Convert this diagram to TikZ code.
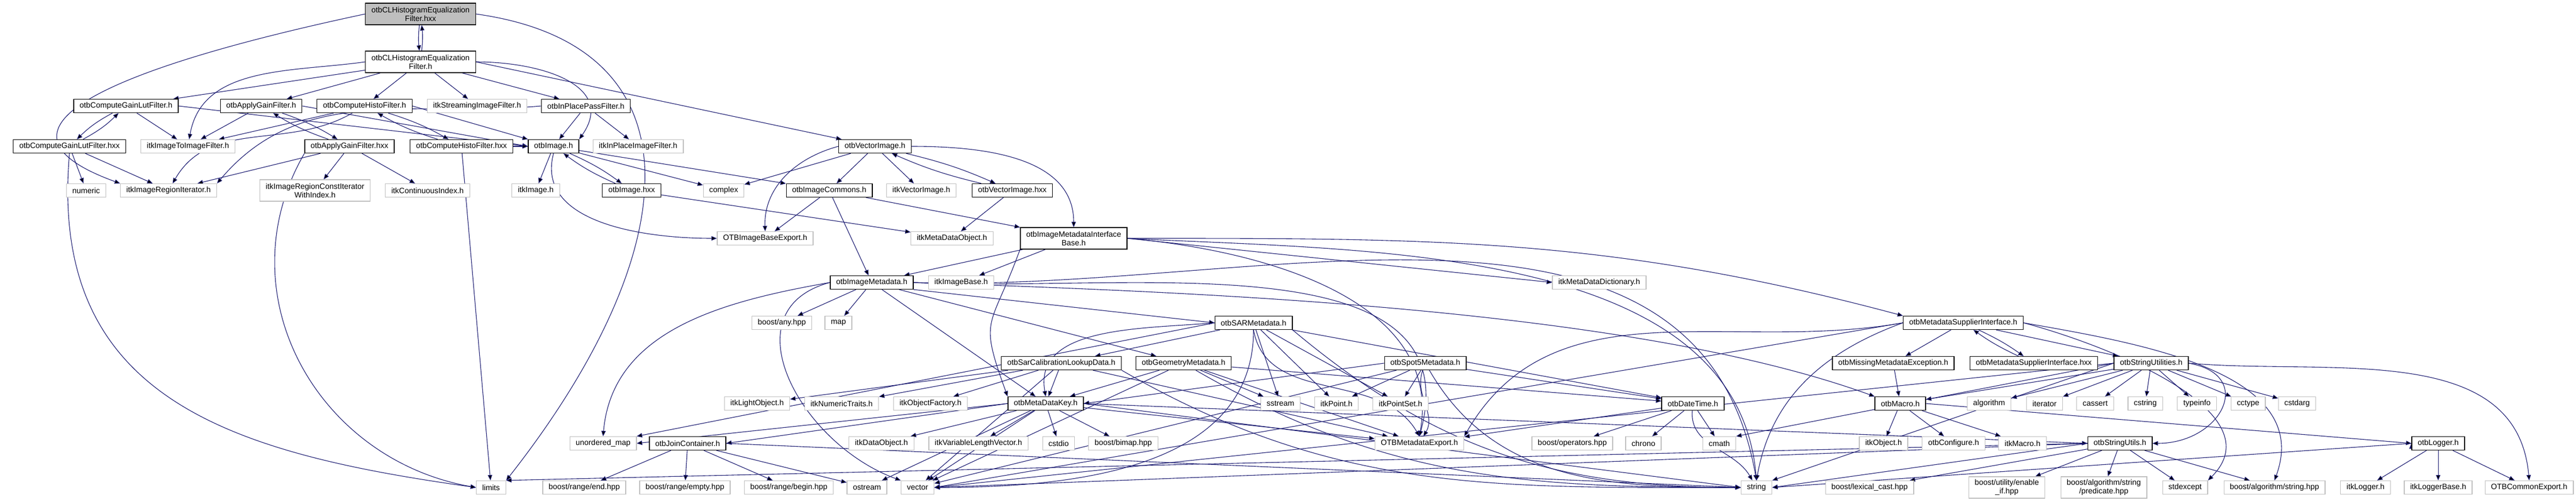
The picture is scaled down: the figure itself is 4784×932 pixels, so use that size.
\documentclass[tikz,border=0pt]{standalone}
\usepackage{fontspec}
\setmainfont{Liberation Sans}
\usepackage{tikz}
\usetikzlibrary{arrows.meta,backgrounds}
\definecolor{edgeblue}{HTML}{191970}
\tikzset{
  file/.style={rectangle, fill=white, line width=0.65pt, inner xsep=5.5pt, inner ysep=1.5pt, minimum height=12.5pt, align=center, font=\fontsize{7.2}{8}\selectfont},
  hdr/.style={file, draw=black},
  ext/.style={file, draw=black!25},
  cur/.style={file, draw=black, fill=black!25},
  dbl/.style={minimum height=20pt},
  dep/.style={draw=edgeblue, line width=0.55pt, -{Triangle[length=5pt,width=4pt]}}
}
\begin{document}
\begin{tikzpicture}[x=0.5pt, y=-0.5pt]
\useasboundingbox (0,0) rectangle (4784,932);

\node[cur,dbl] (root) at (781,26) {otbCLHistogramEqualization\\Filter.hxx};
\node[hdr,dbl] (clh) at (781,115) {otbCLHistogramEqualization\\Filter.h};

\node[hdr] (cglh) at (234,197) {otbComputeGainLutFilter.h};
\node[hdr] (agh) at (485,197) {otbApplyGainFilter.h};
\node[hdr] (chh) at (677,197) {otbComputeHistoFilter.h};
\node[ext] (sif) at (886,197) {itkStreamingImageFilter.h};
\node[hdr] (ippf) at (1088,197) {otbInPlacePassFilter.h};

\node[hdr] (cglx) at (129,272) {otbComputeGainLutFilter.hxx};
\node[ext] (iti) at (349,272) {itkImageToImageFilter.h};
\node[hdr] (agx) at (649,272) {otbApplyGainFilter.hxx};
\node[hdr] (chx) at (857,272) {otbComputeHistoFilter.hxx};
\node[hdr] (imgh) at (1028,272) {otbImage.h};
\node[ext] (ipif) at (1185,272) {itkInPlaceImageFilter.h};
\node[hdr] (vimg) at (1625,272) {otbVectorImage.h};

\node[ext] (numeric) at (160,354) {numeric};
\node[ext] (iri) at (313,354) {itkImageRegionIterator.h};
\node[ext,dbl] (ircwi) at (585,354) {itkImageRegionConstIterator\\WithIndex.h};
\node[ext] (cidx) at (794,354) {itkContinuousIndex.h};
\node[ext] (itkimg) at (995,354) {itkImage.h};
\node[hdr] (imgx) at (1173,354) {otbImage.hxx};
\node[ext] (complex) at (1344,354) {complex};
\node[hdr] (icom) at (1540,354) {otbImageCommons.h};
\node[ext] (itkvimg) at (1711,354) {itkVectorImage.h};
\node[hdr] (vimgx) at (1880,354) {otbVectorImage.hxx};

\node[ext] (ibexp) at (1421,443) {OTBImageBaseExport.h};
\node[ext] (mdo) at (1768,443) {itkMetaDataObject.h};
\node[hdr,dbl] (imib) at (1994,443) {otbImageMetadataInterface\\Base.h};

\node[hdr] (imd) at (1619,525) {otbImageMetadata.h};
\node[ext] (ibase) at (1785,525) {itkImageBase.h};
\node[ext] (mdd) at (2970,525) {itkMetaDataDictionary.h};

\node[ext] (anyhpp) at (1452,600) {boost/any.hpp};
\node[ext] (map) at (1557,600) {map};
\node[hdr] (sar) at (2328,600) {otbSARMetadata.h};
\node[hdr] (msi) at (3646,600) {otbMetadataSupplierInterface.h};

\node[hdr] (sarcal) at (1971,675) {otbSarCalibrationLookupData.h};
\node[hdr] (geom) at (2198,675) {otbGeometryMetadata.h};
\node[hdr] (spot) at (2647,675) {otbSpot5Metadata.h};
\node[hdr] (mme) at (3516,675) {otbMissingMetadataException.h};
\node[hdr] (msix) at (3777,675) {otbMetadataSupplierInterface.hxx};
\node[hdr] (stru) at (3995,675) {otbStringUtilities.h};

\node[ext] (lobj) at (1406,750) {itkLightObject.h};
\node[ext] (ntraits) at (1563,750) {itkNumericTraits.h};
\node[ext] (ofac) at (1728,750) {itkObjectFactory.h};
\node[hdr] (mdk) at (1942,750) {otbMetaDataKey.h};
\node[ext] (sstream) at (2378,750) {sstream};
\node[ext] (point) at (2482,750) {itkPoint.h};
\node[ext] (pset) at (2601,750) {itkPointSet.h};
\node[hdr] (dt) at (3144,750) {otbDateTime.h};
\node[hdr] (macro) at (3529,750) {otbMacro.h};
\node[ext] (algorithm) at (3694,750) {algorithm};
\node[ext] (iterator) at (3797,750) {iterator};
\node[ext] (cassert) at (3891,750) {cassert};
\node[ext] (cstring) at (3984,750) {cstring};
\node[ext] (typeinfo) at (4080,750) {typeinfo};
\node[ext] (cctype) at (4175,750) {cctype};
\node[ext] (cstdarg) at (4266,750) {cstdarg};

\node[ext] (umap) at (1120,824) {unordered\_map};
\node[hdr] (join) at (1277,824) {otbJoinContainer.h};
\node[ext] (dobj) at (1637,824) {itkDataObject.h};
\node[ext] (vlv) at (1817,824) {itkVariableLengthVector.h};
\node[ext] (cstdio) at (1966,824) {cstdio};
\node[ext] (bimap) at (2086,824) {boost/bimap.hpp};
\node[ext] (mdexp) at (2636,824) {OTBMetadataExport.h};
\node[ext] (oper) at (2920,824) {boost/operators.hpp};
\node[ext] (chrono) at (3052,824) {chrono};
\node[ext] (cmath) at (3193,824) {cmath};
\node[ext] (itkobj) at (3498,824) {itkObject.h};
\node[ext] (conf) at (3628,824) {otbConfigure.h};
\node[ext] (itkmacro) at (3756,824) {itkMacro.h};
\node[hdr] (strutils) at (3937,824) {otbStringUtils.h};
\node[hdr] (logger) at (4528,824) {otbLogger.h};

\node[ext] (limits) at (912,906) {limits};
\node[ext] (rend) at (1085,906) {boost/range/end.hpp};
\node[ext] (rempty) at (1272,906) {boost/range/empty.hpp};
\node[ext] (rbegin) at (1465,906) {boost/range/begin.hpp};
\node[ext] (ostream) at (1610,906) {ostream};
\node[ext] (vector) at (1704,906) {vector};
\node[ext] (string) at (3262,906) {string};
\node[ext] (lexcast) at (3472,906) {boost/lexical\_cast.hpp};
\node[ext,dbl] (enableif) at (3727,906) {boost/utility/enable\\\_if.hpp};
\node[ext,dbl] (pred) at (3907,906) {boost/algorithm/string\\/predicate.hpp};
\node[ext] (stdexcept) at (4058,906) {stdexcept};
\node[ext] (algstr) at (4224,906) {boost/algorithm/string.hpp};
\node[ext] (itklogger) at (4393,906) {itkLogger.h};
\node[ext] (loggerbase) at (4528,906) {itkLoggerBase.h};
\node[ext] (commonexp) at (4697,906) {OTBCommonExport.h};

\begin{scope}[on background layer]
\path[dep]
(root) edge[bend right=6] (clh)
(clh) edge[bend right=6] (root)
(root.west) edge[out=192,in=160,looseness=1.6] (iri.north west)
(root.east) edge[to path={.. controls +(430,60) and +(330,-420) .. (\tikztotarget)}] (limits.north east)
(clh) edge (cglh)
(clh.west) edge[out=188,in=80] (iti)
(clh) edge (agh)
(clh) edge (chh)
(clh) edge (sif)
(clh) edge (ippf)
(clh.east) edge[out=0,in=55,looseness=1.3] (imgh.north east)
(clh.east) edge (vimg)
(cglh) edge[bend right=8] (cglx)
(cglx) edge[bend right=8] (cglh)
(cglh) edge (iti)
(cglh.east) edge (imgh.west)
(agh) edge (iti)
(agh) edge[bend left=6] (agx)
(agx) edge[bend left=6] (agh)
(agh.east) edge (imgh.west)
(chh) edge (iti)
(chh) edge[out=-150,in=60] (iri)
(chh) edge[bend left=6] (chx)
(chx) edge[bend left=6] (chh)
(chh.east) edge (imgh.north west)
(ippf) edge (imgh)
(ippf) edge (ipif)
(ippf.west) edge[out=185,in=50] (iri.north east)
(cglx) edge (numeric)
(cglx) edge (iri)
(cglx.south) edge[out=-95,in=172,looseness=1.2] (limits.west)
(agx) edge (iri)
(agx) edge (ircwi)
(agx) edge (cidx)
(agx.south west) edge[out=-120,in=170,looseness=1.1] (limits.west)
(chx) edge (limits)
(chx) edge (imgh)
(imgh) edge (itkimg)
(imgh) edge[bend left=6] (imgx)
(imgx) edge[bend left=6] (imgh)
(imgh) edge (complex)
(imgh) edge (icom)
(imgh.south) edge[out=-105,in=180] (ibexp.west)
(imgx) edge (mdo)
(vimg.west) edge[out=195,in=92] (ibexp.north)
(vimg) edge (complex)
(vimg) edge (icom)
(vimg) edge (itkvimg)
(vimg) edge[bend left=5] (vimgx)
(vimgx) edge[bend left=5] (vimg)
(vimg.east) edge[out=0,in=90] (imib.north)
(vimgx) edge (mdo)
(icom) edge (ibexp)
(icom) edge (imd)
(icom) edge (imib.north west)
(imib) edge (imd)
(imib) edge (ibase)
(imib.south west) edge[out=250,in=110,looseness=1.5] (mdk.north west)
(imib.east) edge (mdd.west)
(imib.east) edge[out=0,in=165] (msi.north west)
(imib.east) edge[out=-5,in=80] (mdexp.north)
(imib.east) edge[out=-3,in=95,looseness=0.9] (string.north)
(imd) edge (anyhpp)
(imd) edge (map)
(imd.west) edge[out=190,in=85] (umap.north)
(imd.south east) edge (sar.west)
(imd) edge (geom)
(imd) edge (mdk)
(imd.east) edge[out=-3,in=75] (mdexp.north)
(imd.east) edge[out=-2,in=160,looseness=0.7] (macro.north west)
(imd.east) edge[out=-2,in=100] (string.north)
(imd.west) edge[out=195,in=160,looseness=1.3] (vector.north west)
(sar) edge (sarcal)
(sar.west) edge[out=185,in=100] (mdk.north)
(sar) edge (point)
(sar) edge (pset)
(sar) edge (sstream)
(sar.south) edge[out=-80,in=120] (mdexp.north)
(sar.south east) edge[out=-40,in=180] (string.west)
(sar.south) edge[out=-90,in=0] (vector.east)
(sar) edge (dt)
(sar.west) edge (umap.north east)
(sarcal) edge (lobj)
(sarcal) edge (ntraits)
(sarcal) edge (ofac)
(sarcal) edge (mdk)
(sarcal) edge (mdexp)
(sarcal) edge (vector)
(sarcal.south east) edge[out=-30,in=180] (string.west)
(geom) edge (mdk)
(geom) edge (sstream)
(geom) edge (mdexp)
(geom) edge[out=-30,in=180] (string.west)
(geom) edge (vector)
(geom) edge (dt)
(spot) edge (point)
(spot) edge (pset)
(spot) edge[out=-110,in=60] (mdexp)
(spot) edge (dt)
(spot.west) edge (mdk.east)
(spot) edge[out=-60,in=180] (string.west)
(spot) edge (vector)
(mdk) edge (dobj)
(mdk) edge (vlv)
(mdk) edge (cstdio)
(mdk) edge (bimap)
(mdk) edge (mdexp)
(mdk.west) edge (join.east)
(mdk.west) edge (umap.east)
(mdk) edge (vector)
(mdk) edge (ostream)
(mdk.east) edge (string.west)
(mdk.east) edge (strutils.west)
(join) edge (rend)
(join) edge (rempty)
(join) edge (rbegin)
(join) edge (ostream)
(join.east) edge (string.west)
(dt) edge (oper)
(dt) edge (chrono)
(dt) edge (cmath)
(dt) edge (mdexp)
(dt) edge[out=-95,in=120] (string)
(msi) edge (mme)
(msi) edge[bend left=5] (msix)
(msix) edge[bend left=5] (msi)
(msi) edge (stru)
(msi.west) edge[out=190,in=60] (mdexp.north east)
(msi.west) edge[out=200,in=80] (string.north)
(msi.west) edge (vector.east)
(msi.east) edge[out=-10,in=70] (algstr.north)
(msi.east) edge[out=-15,in=45] (stdexcept.north east)
(mme) edge (macro)
(stru) edge (algorithm)
(stru) edge (iterator)
(stru) edge (cassert)
(stru) edge (cstring)
(stru) edge (typeinfo)
(stru) edge (cctype)
(stru) edge (cstdarg)
(stru.east) edge[out=-5,in=95] (commonexp.north)
(stru) edge (macro)
(stru.west) edge (string.north east)
(stru.west) edge (vector.east)
(stru.east) edge[out=-10,in=0,looseness=2] (strutils.east)
(stru.west) edge (cmath.north east)
(macro) edge (itkobj)
(macro) edge (conf)
(macro) edge (itkmacro)
(macro.east) edge (logger.west)
(strutils) edge (lexcast)
(strutils) edge (enableif)
(strutils) edge (pred)
(strutils.west) edge (string.east)
(strutils) edge (stdexcept)
(strutils) edge (algstr)
(strutils.west) edge (vector.east)
(strutils.west) edge (limits.north east)
(logger) edge (itklogger)
(logger) edge (loggerbase)
(logger) edge (commonexp)
(logger.west) edge (string.east)
;
\end{scope}
\end{tikzpicture}
\end{document}
